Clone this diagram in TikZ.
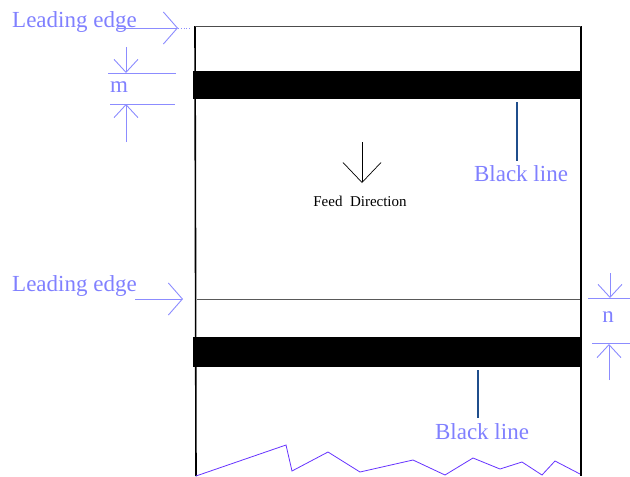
\documentclass[tikz,border=0pt]{standalone}
\usepackage{fontspec}
\setmainfont{Liberation Serif}
\usetikzlibrary{arrows.meta, positioning}
\definecolor{labelblue}{HTML}{8080FF}
\definecolor{dimblue}{HTML}{8C8CFF}
\definecolor{pointerblue}{HTML}{1F4E8C}
\definecolor{tearblue}{HTML}{6633FF}

\begin{document}
\begin{tikzpicture}[x=1pt, y=-1pt]
\tikzset{
  bluetext/.style={
    text=labelblue,
    font=\fontsize{23}{26}\selectfont,
    inner sep=0pt},
  band/.style={
    fill=black,
    minimum width=389pt,
    minimum height=28pt,
    inner sep=0pt},
  edgeline/.style={draw, line width=1.6pt},
  cutline/.style={draw=black!65, line width=1pt},
  dimline/.style={draw=dimblue, line width=0.9pt},
  dimarrow/.style={dimblue, line width=0.9pt, -{Straight Barb[length=13pt,width=24pt]}},
  leadarrow/.style={dimblue, line width=0.9pt, -{Straight Barb[length=14pt,width=32pt]}},
  feedarrow/.style={black, line width=0.7pt, -{Straight Barb[length=20pt,width=38pt]}},
  pointer/.style={draw=pointerblue, line width=1.8pt},
  tear/.style={draw=tearblue, line width=0.8pt},
}
\useasboundingbox (0,0) rectangle (630,477);

% paper
\coordinate (topleft) at (195,26);
\coordinate (topright) at (581,26);
\coordinate (botleft) at (196,476);
\coordinate (botright) at (581,476);
\draw[edgeline] (topleft) -- (botleft);
\draw[edgeline] (topright) -- (botright);
\draw[draw=black!70, line width=1pt] (topleft) -- (topright);

\node[band] (band1) at (387.5,85) {};
\node[band, minimum height=30pt] (band2) at (387.5,352) {};

\coordinate (cutleft) at (197,299);
\coordinate (cutright) at (580,299);
\draw[cutline] (cutleft) -- (cutright);

% torn bottom edge
\draw[tear] (botleft) -- (286,445) -- (292,471) -- (328,452) -- (360,472)
  -- (413,460) -- (445,475) -- (473,458) -- (500,469) -- (522,462)
  -- (542,475) -- (555,461) -- (580,474);

% feed direction
\node[font=\fontsize{15}{17}\selectfont, inner sep=0pt] (feed) at (360,201) {Feed\ \ Direction};
\coordinate (feedtail) at (362,142);
\coordinate (feedtip) at (362,183);
\draw[feedarrow] (feedtail) -- (feedtip);

% black line pointers
\node[bluetext] (line1) at (521,174) {Black line};
\coordinate (ptr1) at (517,0);
\draw[pointer, shorten <=3pt, shorten >=5pt] (band1.south -| ptr1) -- (line1.north -| ptr1);

\node[bluetext] (line2) at (482,432) {Black line};
\coordinate (ptr2) at (478,0);
\draw[pointer, shorten <=3pt, shorten >=6pt] (band2.south -| ptr2) -- (line2.north -| ptr2);

% leading edges
\node[bluetext, anchor=base west] (lead1) at (12,27) {Leading edge};
\coordinate (lead1tail) at (118,28);
\coordinate (lead1tip) at (178,28);
\draw[leadarrow] (lead1tail) -- (lead1tip);
\draw[dimblue, dotted, line width=0.8pt] (lead1tip) -- ++(12,0);

\node[bluetext, anchor=base west] (lead2) at (12,291) {Leading edge};
\coordinate (lead2tail) at (135,299);
\coordinate (lead2tip) at (183,299);
\draw[leadarrow] (lead2tail) -- (lead2tip);

% dimension m
\node[bluetext] (mlabel) at (119,87) {m};
\coordinate (mtop) at (126,73);
\coordinate (mbot) at (126,104);
\draw[dimline] (108,73) -- (176,73);
\draw[dimline] (110,104) -- (175,104);
\draw[dimarrow] (126,47) -- (mtop);
\draw[dimarrow] (126,142) -- (mbot);

% dimension n
\node[bluetext] (nlabel) at (608,317) {n};
\coordinate (ntop) at (610,298);
\coordinate (nbot) at (609,344);
\draw[dimline] (588,298) -- (630,298);
\draw[dimline] (592,343) -- (630,343);
\draw[dimarrow] (610,273) -- (ntop);
\draw[dimarrow] (609,380) -- (nbot);

\end{tikzpicture}
\end{document}
